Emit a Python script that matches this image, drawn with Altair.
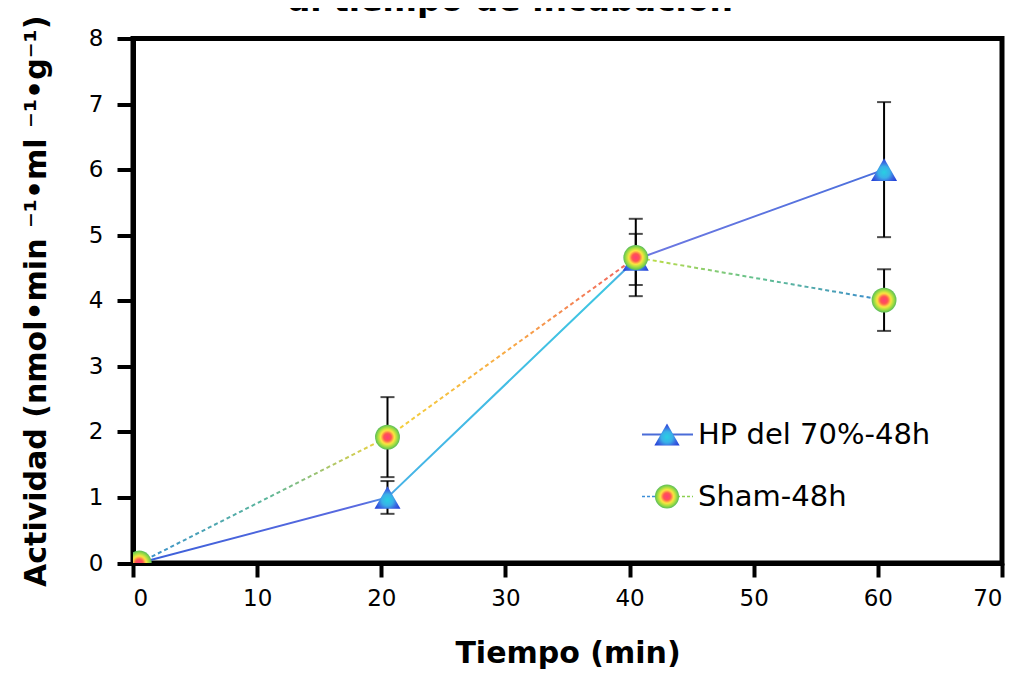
import altair as alt
import pandas as pd

# ---------------- data ----------------
series_names = ["HP del 70%-48h", "Sham-48h"]
x_min = [0.5, 20.5, 40.5, 60.5]
hp_mean = [0.0, 1.0, 4.63, 6.0]
hp_err = [0.0, 0.25, 0.39, 1.03]
sham_mean = [0.0, 1.92, 4.66, 4.01]
sham_err = [0.0, 0.61, 0.59, 0.47]
x_ticks = [0, 10, 20, 30, 40, 50, 60, 70]
y_ticks = [0, 1, 2, 3, 4, 5, 6, 7, 8]

rows = []
for name, means, errs in [(series_names[0], hp_mean, hp_err),
                          (series_names[1], sham_mean, sham_err)]:
    for x, m, e in zip(x_min, means, errs):
        rows.append({"series": name, "x": x, "y": m, "lo": m - e, "hi": m + e, "err": e})
df = pd.DataFrame(rows)

FONT = "DejaVu Sans"
xs = alt.Scale(domain=[0, 70], nice=False, zero=False)
ys = alt.Scale(domain=[0, 8], nice=False)

x_axis = alt.Axis(values=x_ticks, title="Tiempo (min)", tickSize=14, labelPadding=10,
                  titlePadding=28, titleFontSize=30)
y_axis = alt.Axis(values=y_ticks, title="Actividad (nmol•min ⁻¹•ml ⁻¹•g⁻¹)", tickSize=16,
                  labelPadding=14, titlePadding=37, titleFontSize=30)

X = alt.X("x:Q", scale=xs, axis=x_axis)
Y = alt.Y("y:Q", scale=ys, axis=y_axis)

base = alt.Chart(df)
hp = base.transform_filter(alt.datum.series == series_names[0])
sh = base.transform_filter(alt.datum.series == series_names[1])

hp_grad = alt.LinearGradient(
    gradient="linear", x1=0, x2=1, y1=0, y2=0,
    stops=[alt.GradientStop(offset=0, color="#3b5fd9"),
           alt.GradientStop(offset=0.30, color="#5a6ae0"),
           alt.GradientStop(offset=0.35, color="#46b4e6"),
           alt.GradientStop(offset=0.63, color="#3fc6e2"),
           alt.GradientStop(offset=0.68, color="#6d78e2"),
           alt.GradientStop(offset=1, color="#4a6fdc")])
sh_grad = alt.LinearGradient(
    gradient="linear", x1=0, x2=1, y1=0, y2=0,
    stops=[alt.GradientStop(offset=0, color="#3a8fd0"),
           alt.GradientStop(offset=0.17, color="#5ab59a"),
           alt.GradientStop(offset=0.33, color="#f3d43c"),
           alt.GradientStop(offset=0.50, color="#f8a845"),
           alt.GradientStop(offset=0.665, color="#f06262"),
           alt.GradientStop(offset=0.67, color="#c6e040"),
           alt.GradientStop(offset=0.83, color="#62c090"),
           alt.GradientStop(offset=1, color="#3a8ad0")])

tri_fill = alt.RadialGradient(
    gradient="radial", x1=0.5, y1=0.6, r1=0, x2=0.5, y2=0.6, r2=0.55,
    stops=[alt.GradientStop(offset=0, color="#28d0e2"),
           alt.GradientStop(offset=0.4, color="#3ab0e8"),
           alt.GradientStop(offset=0.7, color="#3a66e0"),
           alt.GradientStop(offset=1, color="#2242d8")])
circ_fill = alt.RadialGradient(
    gradient="radial", x1=0.5, y1=0.5, r1=0, x2=0.5, y2=0.5, r2=0.5,
    stops=[alt.GradientStop(offset=0, color="#ff3c78"),
           alt.GradientStop(offset=0.3, color="#ff5450"),
           alt.GradientStop(offset=0.55, color="#ffe640"),
           alt.GradientStop(offset=0.78, color="#a4de40"),
           alt.GradientStop(offset=1, color="#58bc5a")])

hp_line = hp.mark_line(stroke=hp_grad, strokeWidth=2, clip=True).encode(x=X, y=Y)
sh_line = sh.mark_line(stroke=sh_grad, strokeWidth=2, strokeDash=[4, 3], clip=True).encode(x=X, y=Y)

eb = base.transform_filter(alt.datum.err > 0)
eb_rule = eb.mark_rule(color="black", strokeWidth=2).encode(
    x=X, y=alt.Y("lo:Q", scale=ys, axis=y_axis), y2="hi:Q")
eb_top = eb.mark_tick(orient="horizontal", color="black", size=14, thickness=2).encode(
    x=X, y=alt.Y("hi:Q", scale=ys, axis=y_axis))
eb_bot = eb.mark_tick(orient="horizontal", color="black", size=14, thickness=2).encode(
    x=X, y=alt.Y("lo:Q", scale=ys, axis=y_axis))

hp_pts = hp.mark_point(shape="triangle-up", filled=True, fill=tri_fill, size=676,
                       opacity=1, strokeWidth=0, clip=True).encode(x=X, y=Y)
sh_pts = sh.mark_point(shape="circle", filled=True, fill=circ_fill, size=620,
                       opacity=1, strokeWidth=0, clip=True).encode(x=X, y=Y)

# ---------------- manual legend ----------------
leg_hp = alt.Chart(pd.DataFrame({"label": [series_names[0]]}))
leg_sh = alt.Chart(pd.DataFrame({"label": [series_names[1]]}))
LX0, LX1, LXM, LXT = 509, 560, 534, 565
LY_HP, LY_SH = 396, 458

legend_layers = [
    leg_hp.mark_rule(color="#4a6cd8", strokeWidth=2).encode(
        x=alt.value(LX0), x2=alt.value(LX1), y=alt.value(LY_HP)),
    leg_hp.mark_point(shape="triangle-up", filled=True, fill=tri_fill, size=640,
                      opacity=1, strokeWidth=0).encode(x=alt.value(LXM), y=alt.value(LY_HP)),
    leg_hp.mark_text(align="left", baseline="middle", font=FONT, fontSize=29, color="black").encode(
        x=alt.value(LXT), y=alt.value(LY_HP), text="label:N"),
    leg_sh.mark_rule(color="#3d8fd8", strokeWidth=1.5, strokeDash=[3, 2]).encode(
        x=alt.value(LX0), x2=alt.value(LXM), y=alt.value(LY_SH)),
    leg_sh.mark_rule(color="#8cd050", strokeWidth=1.5, strokeDash=[3, 2]).encode(
        x=alt.value(LXM), x2=alt.value(LX1), y=alt.value(LY_SH)),
    leg_sh.mark_point(shape="circle", filled=True, fill=circ_fill, size=580,
                      opacity=1, strokeWidth=0).encode(x=alt.value(LXM), y=alt.value(LY_SH)),
    leg_sh.mark_text(align="left", baseline="middle", font=FONT, fontSize=29, color="black").encode(
        x=alt.value(LXT), y=alt.value(LY_SH), text="label:N"),
]

chart = alt.layer(
    hp_line, sh_line, eb_rule, eb_top, eb_bot, hp_pts, sh_pts, *legend_layers
).properties(
    width=869, height=524.5,
    autosize=alt.AutoSizeParams(type="none"),
    padding={"left": 125, "top": 30.5, "right": 3, "bottom": 106},
    title=alt.TitleParams(text="al tiempo de incubación", font=FONT, fontSize=33,
                          fontWeight="bold", anchor="middle", frame="group",
                          baseline="alphabetic", dx=-57, dy=36, offset=7, color="black"),
).configure_view(
    stroke="black", strokeWidth=5
).configure_axis(
    domainColor="black", domainWidth=5, tickColor="black", tickWidth=4,
    labelFont=FONT, labelFontSize=23, labelColor="black",
    titleFont=FONT, titleFontWeight="bold", titleColor="black",
    grid=False, zindex=1
)

chart.save("out.html", embed_options={"renderer": "svg", "actions": False})
